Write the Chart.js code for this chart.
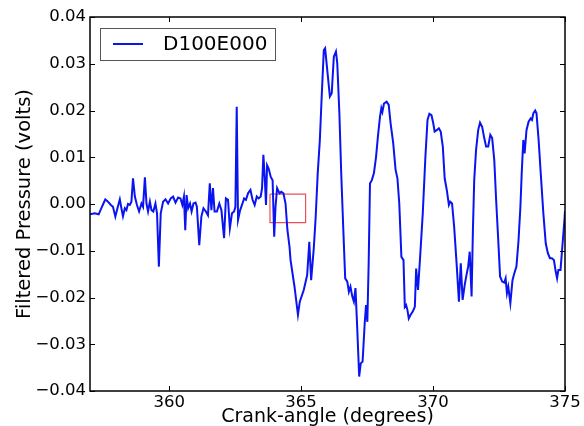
<!DOCTYPE html>
<html>
<head>
<meta charset="utf-8">
<script src="https://cdn.jsdelivr.net/npm/chart.js@4"></script>
<style>
  html, body { margin: 0; padding: 0; background: #fff; }
</style>
</head>
<body>
<canvas id="chart" width="584" height="426"></canvas>
<script>
// crank angle (degrees) and filtered pressure (volts)
const angle = [
  357.00, 357.18, 357.33, 357.43, 357.51, 357.58, 357.68, 357.79, 357.87, 357.96,
  358.04, 358.13, 358.19, 358.25, 358.32, 358.38, 358.44, 358.51, 358.57, 358.63,
  358.70, 358.78, 358.86, 358.95, 359.01, 359.08, 359.14, 359.20, 359.27, 359.33,
  359.40, 359.48, 359.54, 359.61, 359.68, 359.77, 359.86, 359.96, 360.06, 360.15,
  360.24, 360.34, 360.43, 360.50, 360.56, 360.61, 360.66, 360.72, 360.79, 360.85,
  360.92, 361.00, 361.05, 361.14, 361.22, 361.30, 361.39, 361.47, 361.54, 361.60,
  361.66, 361.72, 361.81, 361.90, 361.98, 362.08, 362.15, 362.23, 362.30, 362.38,
  362.46, 362.51, 362.56, 362.61, 362.69, 362.76, 362.84, 362.91, 362.99, 363.08,
  363.16, 363.24, 363.32, 363.39, 363.47, 363.52, 363.57, 363.62, 363.67, 363.71,
  363.77, 363.85, 363.92, 363.98, 364.03, 364.09, 364.18, 364.25, 364.33, 364.41,
  364.48, 364.56, 364.60, 364.75, 364.88, 364.95, 365.10, 365.23, 365.31, 365.38,
  365.48, 365.55, 365.63, 365.71, 365.78, 365.86, 365.91, 365.99, 366.09, 366.16,
  366.24, 366.32, 366.37, 366.45, 366.52, 366.60, 366.67, 366.75, 366.81, 366.87,
  366.94, 367.00, 367.06, 367.13, 367.20, 367.26, 367.33, 367.41, 367.46, 367.51,
  367.56, 367.61, 367.68, 367.76, 367.84, 367.91, 367.99, 368.04, 368.08, 368.14,
  368.24, 368.32, 368.39, 368.49, 368.58, 368.65, 368.72, 368.80, 368.88, 368.93,
  368.98, 369.03, 369.08, 369.15, 369.23, 369.31, 369.36, 369.43, 369.51, 369.61,
  369.71, 369.79, 369.86, 369.94, 370.00, 370.06, 370.14, 370.22, 370.29, 370.37,
  370.44, 370.52, 370.60, 370.65, 370.72, 370.80, 370.90, 370.98, 371.05, 371.12,
  371.20, 371.28, 371.33, 371.39, 371.46, 371.51, 371.56, 371.63, 371.71, 371.78,
  371.86, 371.94, 372.01, 372.09, 372.17, 372.24, 372.32, 372.39, 372.47, 372.54,
  372.62, 372.70, 372.75, 372.80, 372.85, 372.93, 373.01, 373.08, 373.16, 373.24,
  373.31, 373.36, 373.42, 373.47, 373.54, 373.62, 373.70, 373.75, 373.80, 373.87,
  373.92, 374.00, 374.08, 374.18, 374.27, 374.35, 374.43, 374.50, 374.58, 374.65,
  374.70, 374.75, 374.83, 374.90, 374.98, 375.00
];
const pressure = [
  -0.0022, -0.0020, -0.0022, -0.0009, 0.0001, 0.0010, 0.0005, -0.0002, -0.0006, -0.0027,
  -0.0009, 0.0010, -0.0009, -0.0026, -0.0009, -0.0013, 0.0000, -0.0002, 0.0005, 0.0055,
  0.0016, -0.0002, -0.0016, 0.0001, -0.0006, 0.0057, 0.0001, -0.0016, 0.0005, -0.0013,
  -0.0016, 0.0001, -0.0020, -0.0134, -0.0020, 0.0005, 0.0010, 0.0001, 0.0012, 0.0016,
  0.0003, 0.0014, 0.0012, -0.0002, 0.0016, -0.0056, 0.0019, -0.0009, 0.0001, -0.0016,
  0.0001, 0.0003, -0.0006, -0.0088, -0.0027, -0.0009, -0.0016, -0.0024, 0.0044, -0.0013,
  0.0034, -0.0016, -0.0016, 0.0001, -0.0013, -0.0073, 0.0012, 0.0009, -0.0052, -0.0020,
  -0.0016, -0.0006, 0.0208, -0.0034, -0.0013, -0.0002, 0.0012, 0.0009, 0.0023, 0.0030,
  0.0009, -0.0002, 0.0016, 0.0012, 0.0016, 0.0034, 0.0105, 0.0058, -0.0002, 0.0083,
  0.0076, 0.0058, 0.0051, -0.0070, -0.0006, 0.0034, 0.0023, 0.0026, 0.0023, 0.0001,
  -0.0055, -0.0091, -0.0120, -0.0177, -0.0237, -0.0209, -0.0184, -0.0152, -0.0081, -0.0163,
  -0.0095, -0.0030, 0.0066, 0.0137, 0.0230, 0.0329, 0.0333, 0.0287, 0.0230, 0.0237,
  0.0315, 0.0326, 0.0301, 0.0194, 0.0066, -0.0056, -0.0159, -0.0166, -0.0188, -0.0177,
  -0.0198, -0.0209, -0.0180, -0.0270, -0.0369, -0.0341, -0.0337, -0.0255, -0.0216, -0.0252,
  -0.0127, 0.0044, 0.0051, 0.0066, 0.0101, 0.0144, 0.0187, 0.0205, 0.0197, 0.0215,
  0.0219, 0.0212, 0.0173, 0.0130, 0.0073, 0.0055, 0.0001, -0.0113, -0.0120, -0.0220,
  -0.0216, -0.0227, -0.0245, -0.0237, -0.0230, -0.0220, -0.0138, -0.0184, -0.0113, -0.0020,
  0.0101, 0.0180, 0.0193, 0.0190, 0.0175, 0.0155, 0.0158, 0.0162, 0.0155, 0.0123,
  0.0055, 0.0030, -0.0002, 0.0005, 0.0001, -0.0049, -0.0134, -0.0209, -0.0127, -0.0205,
  -0.0173, -0.0148, -0.0134, -0.0102, -0.0198, -0.0056, 0.0051, 0.0116, 0.0158, 0.0174,
  0.0165, 0.0141, 0.0123, 0.0123, 0.0148, 0.0141, 0.0094, 0.0009, -0.0077, -0.0155,
  -0.0166, -0.0168, -0.0159, -0.0191, -0.0177, -0.0212, -0.0163, -0.0148, -0.0134, -0.0077,
  -0.0006, 0.0066, 0.0137, 0.0108, 0.0158, 0.0176, 0.0183, 0.0180, 0.0194, 0.0200,
  0.0194, 0.0137, 0.0066, -0.0020, -0.0084, -0.0105, -0.0116, -0.0116, -0.0120, -0.0145,
  -0.0159, -0.0141, -0.0141, -0.0091, -0.0034, -0.0015
];

// red highlight box (data coords)
const boxX = [363.82, 365.17];
const boxY = [-0.0040, 0.0021];

const xTicks = [360, 365, 370, 375];
const yTicks = [-0.04, -0.03, -0.02, -0.01, 0, 0.01, 0.02, 0.03, 0.04];
const seriesLabel = 'D100E000';

const FONT = 'DejaVu Sans';

const lineData = angle.map((a, i) => ({x: a, y: pressure[i]}));
const boxData = [
  {x: boxX[0], y: boxY[1]}, {x: boxX[1], y: boxY[1]},
  {x: boxX[1], y: boxY[0]}, {x: boxX[0], y: boxY[0]},
  {x: boxX[0], y: boxY[1]}
];

// axes frame + inward tick marks, matplotlib style
const framePlugin = {
  id: 'frame',
  afterDatasetsDraw(chart) {
    const {ctx, chartArea: a, scales} = chart;
    const len = 5;
    ctx.save();
    ctx.strokeStyle = '#000';
    ctx.lineWidth = 1;
    xTicks.forEach(v => {
      const px = Math.round(scales.x.getPixelForValue(v)) + 0.5;
      ctx.beginPath();
      ctx.moveTo(px, a.bottom); ctx.lineTo(px, a.bottom - len);
      ctx.moveTo(px, a.top); ctx.lineTo(px, a.top + len);
      ctx.stroke();
    });
    yTicks.forEach(v => {
      const py = Math.round(scales.y.getPixelForValue(v)) + 0.5;
      ctx.beginPath();
      ctx.moveTo(a.left, py); ctx.lineTo(a.left + len, py);
      ctx.moveTo(a.right, py); ctx.lineTo(a.right - len, py);
      ctx.stroke();
    });
    ctx.lineWidth = 1.5;
    ctx.strokeRect(a.left, a.top, a.right - a.left, a.bottom - a.top);
    ctx.restore();
  }
};

// legend box in the upper left corner
const legendPlugin = {
  id: 'boxLegend',
  afterDraw(chart) {
    const {ctx, chartArea: a} = chart;
    const ds = chart.data.datasets[0];
    const x0 = a.left + 10, y0 = a.top + 11, w = 175, h = 32;
    ctx.save();
    ctx.fillStyle = '#fff';
    ctx.fillRect(x0, y0, w, h);
    ctx.strokeStyle = '#555';
    ctx.lineWidth = 1;
    ctx.strokeRect(x0 + 0.5, y0 + 0.5, w, h);
    const cy = y0 + h / 2;
    ctx.strokeStyle = ds.borderColor;
    ctx.lineWidth = ds.borderWidth;
    ctx.beginPath();
    ctx.moveTo(x0 + 13, cy); ctx.lineTo(x0 + 43, cy);
    ctx.stroke();
    ctx.fillStyle = '#000';
    ctx.font = '20px "' + FONT + '"';
    ctx.textBaseline = 'middle';
    ctx.fillText(ds.label, x0 + 63, cy + 1);
    ctx.restore();
  }
};

const ctx = document.getElementById('chart').getContext('2d');
const chart = new Chart(ctx, {
  type: 'line',
  data: {
    datasets: [{
      label: seriesLabel,
      data: lineData,
      borderColor: '#0a14f0',
      borderWidth: 2,
      pointRadius: 0,
      tension: 0,
      fill: false
    }, {
      label: 'box',
      data: boxData,
      borderColor: '#e8505b',
      borderWidth: 1.2,
      pointRadius: 0,
      tension: 0,
      fill: false
    }]
  },
  options: {
    responsive: false,
    animation: false,
    devicePixelRatio: 1,
    layout: { padding: { top: 17, right: 19, left: 0, bottom: 0 } },
    plugins: {
      legend: { display: false },
      tooltip: { enabled: false }
    },
    scales: {
      x: {
        type: 'linear',
        min: 357,
        max: 375,
        afterBuildTicks: s => { s.ticks = xTicks.map(v => ({value: v})); },
        afterFit: s => { s.height = 35; },
        grid: { display: false, drawTicks: false },
        border: { display: false },
        ticks: {
          color: '#000',
          padding: 2,
          maxRotation: 0,
          font: { family: FONT, size: 16.5 },
          callback: v => String(v)
        },
        title: {
          display: true,
          text: 'Crank-angle (degrees)',
          color: '#000',
          padding: { top: 0, bottom: -2 },
          font: { family: FONT, size: 19 }
        }
      },
      y: {
        type: 'linear',
        min: -0.04,
        max: 0.04,
        afterBuildTicks: s => { s.ticks = yTicks.map(v => ({value: v})); },
        afterFit: s => { s.width = 90; },
        grid: { display: false, drawTicks: false },
        border: { display: false },
        ticks: {
          color: '#000',
          padding: 4,
          font: { family: FONT, size: 16.5 },
          callback: v => v.toFixed(2).replace('-', '\u2212')
        },
        title: {
          display: true,
          text: 'Filtered Pressure (volts)',
          color: '#000',
          padding: { top: 13, bottom: 0 },
          font: { family: FONT, size: 19.5 }
        }
      }
    }
  },
  plugins: [framePlugin, legendPlugin]
});
</script>
</body>
</html>
